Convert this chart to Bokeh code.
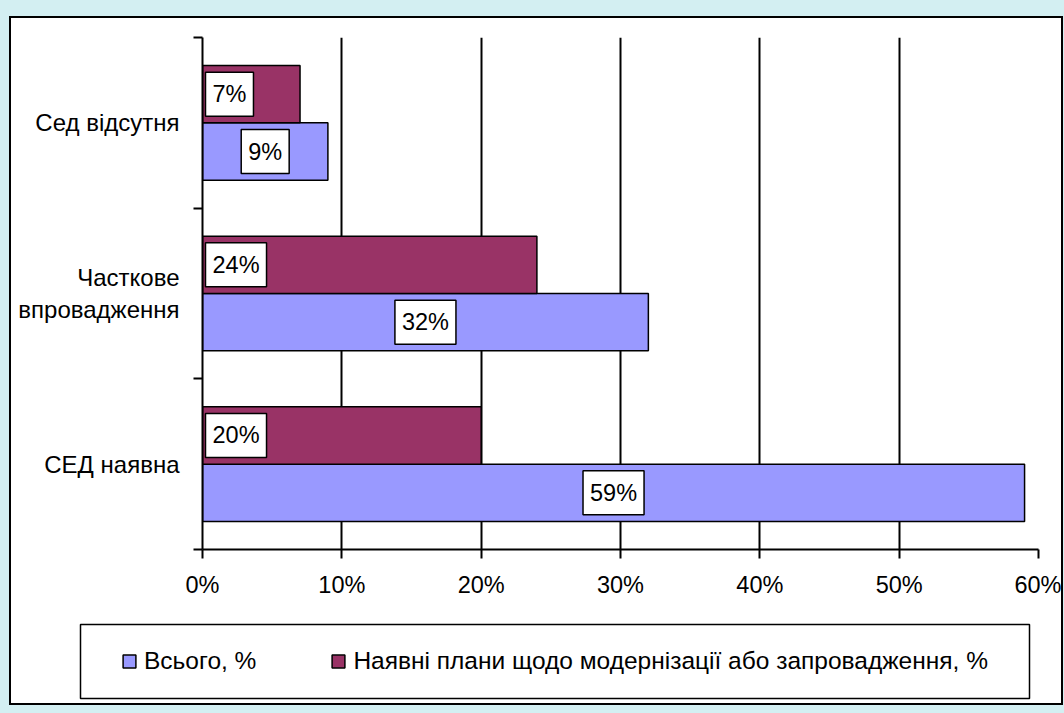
from bokeh.plotting import figure
from bokeh.layouts import column
from bokeh.models import ColumnDataSource, FixedTicker, Legend, LegendItem
from bokeh.core.properties import value
from bokeh.embed import file_html
from bokeh.resources import INLINE

# ---- data ----
categories = ["СЕД наявна", "Часткове\nвпровадження", "Сед відсутня"]  # bottom to top
total_pct = [59, 32, 9]
plans_pct = [20, 24, 7]
x_ticks = [0, 10, 20, 30, 40, 50, 60]
x_tick_labels = ["0%", "10%", "20%", "30%", "40%", "50%", "60%"]
series_names = ["Всього, %", "Наявні плани щодо модернізації або запровадження, %"]

FONT = "Liberation Sans"
BLUE = "#9999FF"
MAROON = "#993366"
BAR_H = 0.336

centers = [i + 0.5 for i in range(len(categories))]
bounds = [float(i) for i in range(len(categories) + 1)]

src_total = ColumnDataSource(dict(
    y=[c - BAR_H / 2 for c in centers],
    right=total_pct,
    mid=[v / 2 for v in total_pct],
    txt=[f"{v}%" for v in total_pct],
))
src_plans = ColumnDataSource(dict(
    y=[c + BAR_H / 2 for c in centers],
    right=plans_pct,
    zero=[0] * len(plans_pct),
    txt=[f"{v}%" for v in plans_pct],
))

bar_total = dict(fill_color=BLUE, line_color="black", line_width=1.5)
bar_plans = dict(fill_color=MAROON, line_color="black", line_width=1.5)

p = figure(width=1050, height=592, x_range=(0, 60), y_range=(0, len(categories)),
           output_backend="svg", toolbar_location=None,
           min_border_left=191, min_border_right=23, min_border_top=19, min_border_bottom=61)
p.border_fill_color = "white"
p.background_fill_color = "white"
p.outline_line_color = None

p.hbar(y="y", left=0, right="right", height=BAR_H, source=src_total, **bar_total)
p.hbar(y="y", left=0, right="right", height=BAR_H, source=src_plans, **bar_plans)

# grid
p.ygrid.visible = False
p.xgrid.ticker = FixedTicker(ticks=x_ticks)
p.xgrid.grid_line_color = "black"
p.xgrid.grid_line_width = 2

# x axis
xa = p.xaxis[0]
xa.ticker = FixedTicker(ticks=x_ticks)
xa.major_label_overrides = {t: l for t, l in zip(x_ticks, x_tick_labels)}
xa.axis_line_color = "black"
xa.axis_line_width = 2
xa.major_tick_line_color = "black"
xa.major_tick_line_width = 2
xa.major_tick_in = 0
xa.major_tick_out = 9
xa.minor_tick_line_color = None
xa.major_label_text_font = FONT
xa.major_label_text_font_size = "23.5px"
xa.major_label_text_color = "black"
xa.major_label_standoff = 13

# y axis
ya = p.yaxis[0]
ya.ticker = FixedTicker(ticks=centers, minor_ticks=bounds)
ya.major_label_overrides = {c: n for c, n in zip(centers, categories)}
ya.axis_line_color = "black"
ya.axis_line_width = 2
ya.major_tick_line_color = None
ya.major_tick_in = 0
ya.major_tick_out = 0
ya.minor_tick_line_color = "black"
ya.minor_tick_line_width = 2
ya.minor_tick_in = 0
ya.minor_tick_out = 9
ya.major_label_text_font = FONT
ya.major_label_text_font_size = "24px"
ya.major_label_text_color = "black"
ya.major_label_standoff = 14

# data labels
lab_common = dict(text="txt", text_font=value(FONT), text_font_size="23.5px", text_color="black",
                  text_baseline="middle", background_fill_color="white",
                  border_line_color="black", border_line_width=1.5,
                  padding=dict(left=7, right=7, top=9, bottom=9))
p.text(x="mid", y="y", source=src_total, text_align="center", **lab_common)
p.text(x="zero", y="y", source=src_plans, text_align="left", x_offset=3, **lab_common)

# ---- legend strip (its frame outline is the legend box) ----
pl = figure(width=1050, height=93, x_range=(0, 60), y_range=(0, 3),
            output_backend="svg", toolbar_location=None,
            x_axis_location=None, y_axis_location=None,
            min_border_left=69, min_border_right=32, min_border_top=14, min_border_bottom=5)
pl.grid.visible = False
pl.outline_line_color = "black"
pl.outline_line_width = 1.5
pl.border_fill_color = "white"
pl.background_fill_color = "white"
lr_total = pl.hbar(y="y", left=0, right="right", height=BAR_H, source=src_total,
                   visible=False, **bar_total)
lr_plans = pl.hbar(y="y", left=0, right="right", height=BAR_H, source=src_plans,
                   visible=False, **bar_plans)

legend = Legend(items=[LegendItem(label=series_names[0], renderers=[lr_total]),
                       LegendItem(label=series_names[1], renderers=[lr_plans])],
                orientation="horizontal", location=(41, 23),
                glyph_width=16, glyph_height=16, label_standoff=7, spacing=74,
                padding=0, margin=0,
                label_text_font=FONT, label_text_font_size="24.5px", label_text_color="black",
                border_line_color=None, background_fill_alpha=0.0)
pl.add_layout(legend, "center")

inner = column(p, column(pl), spacing=0,
               styles={"background-color": "white", "border": "2px solid black"})
outer = column(inner, styles={"background-color": "#d3eff2", "padding": "16px 1px 8px 9px"})

open("out.html", "w").write(file_html(outer, INLINE))
